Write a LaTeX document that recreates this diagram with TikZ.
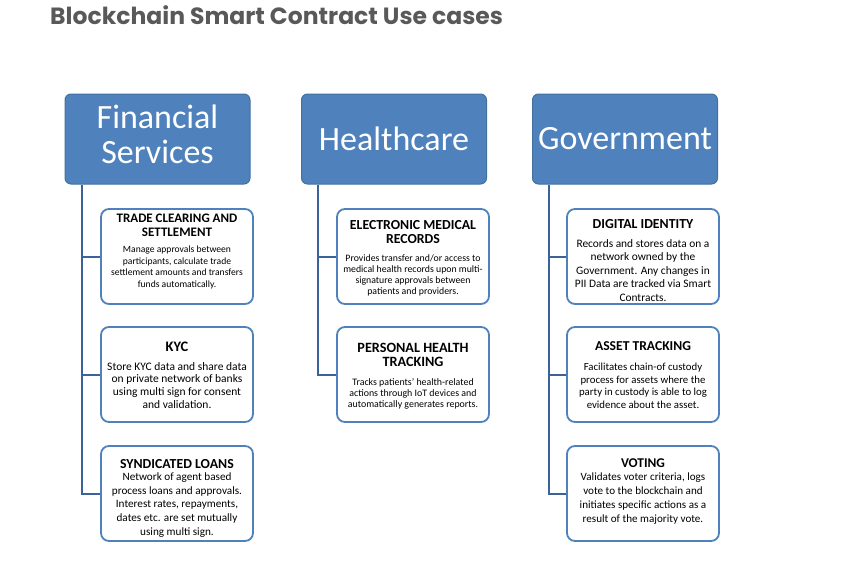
\documentclass[tikz,border=0pt]{standalone}
\usepackage{fontspec}
\usetikzlibrary{positioning}
\setmainfont{Carlito}
\newfontfamily\titlefont{Poppins}
\definecolor{hdrfill}{HTML}{4F81BD}
\definecolor{hdrdraw}{HTML}{41719C}
\definecolor{boxdraw}{HTML}{4F81BD}
\definecolor{connc}{HTML}{3B6398}
\definecolor{titlegray}{HTML}{595959}
\newcommand{\ctitle}[2][13.8]{{\fontsize{#1}{#1}\selectfont\bfseries #2}}
\newcommand{\fs}[2]{\fontsize{#1}{#2}\selectfont}
\begin{document}
\begin{tikzpicture}[x=1pt,y=-1pt,
  hdr/.style={draw=hdrdraw, line width=1pt, fill=hdrfill, rounded corners=6pt,
    minimum width=185pt, minimum height=90pt, text=white, align=center,
    font=\fontsize{34}{35}\selectfont, inner sep=0pt},
  card/.style={draw=boxdraw, line width=1.8pt, fill=white, rounded corners=8pt,
    minimum width=152pt, minimum height=95pt, inner sep=0pt},
  ctext/.style={align=center, inner sep=0pt},
  conn/.style={draw=connc, line width=2pt}]
\useasboundingbox (0,0) rectangle (865,582);
\node[anchor=base west, text=titlegray, font=\titlefont\bfseries\fontsize{23.5}{26}\selectfont, inner sep=0pt] (title) at (50,24) {Blockchain Smart Contract Use cases};

\node[hdr, text depth=10pt] (fin) at (157.5,139) {Financial\\Services};
\node[hdr] (hea) at (394,139) {Healthcare};
\node[hdr] (gov) at (625,139) {Government};

% cards (boxes)
\node[card] (f1) at (177,256.5) {};
\node[card] (f2) at (177,374.5) {};
\node[card] (f3) at (177,493.5) {};
\node[card] (h1) at (413,256.5) {};
\node[card] (h2) at (413,374.5) {};
\node[card] (g1) at (643,256.5) {};
\node[card] (g2) at (643,374.5) {};
\node[card] (g3) at (643,493.5) {};

% card texts
\node[ctext, font=\fs{9.6}{11.7}, below=5.6pt of f1.north] (f1t) {\ctitle[13]{TRADE CLEARING AND}\\[2.3pt]\ctitle[13]{SETTLEMENT}\\[4.3pt]Manage approvals between\\participants, calculate trade\\settlement amounts and transfers\\funds automatically.};
\node[ctext, font=\fs{11.5}{12.7}, below=15.3pt of f2.north] (f2t) {\ctitle[14.5]{KYC}\\[6.3pt]Store KYC data and share data\\on private network of banks\\using multi sign for consent\\and validation.};
\node[ctext, font=\fs{11.2}{13.6}, below=14pt of f3.north] (f3t) {\ctitle{SYNDICATED LOANS}\\[-1.2pt]Network of agent based\\process loans and approvals.\\Interest rates, repayments,\\dates etc. are set mutually\\using multi sign.};

\node[ctext, font=\fs{9.8}{11}, below=12.2pt of h1.north] (h1t) {\ctitle{ELECTRONIC MEDICAL}\\[3.3pt]\ctitle{RECORDS}\\[7pt]Provides transfer and/or access to\\medical health records upon multi-\\signature approvals between\\patients and providers.};
\node[ctext, font=\fs{9.9}{11.2}, below=17.1pt of h2.north] (h2t) {\ctitle[14.2]{PERSONAL HEALTH}\\[2.8pt]\ctitle[14.2]{TRACKING}\\[7.3pt]Tracks patients' health-related\\actions through IoT devices and\\automatically generates reports.};

\node[ctext, font=\fs{11.4}{13.5}, below=11.4pt of g1.north] (g1t) {\ctitle{DIGITAL IDENTITY}\\[4.9pt]Records and stores data on a\\network owned by the\\Government. Any changes in\\PII Data are tracked via Smart\\Contracts.};
\node[ctext, font=\fs{10.8}{12.8}, below=15pt of g2.north] (g2t) {\ctitle[13.6]{ASSET TRACKING}\\[7.2pt]Facilitates chain-of custody\\process for assets where the\\party in custody is able to log\\evidence about the asset.};
\node[ctext, font=\fs{11.1}{13.8}, below=13.4pt of g3.north] (g3t) {\ctitle[13.4]{VOTING}\\[-0.4pt]Validates voter criteria, logs\\vote to the blockchain and\\initiates specific actions as a\\result of the majority vote.};

\coordinate (fx) at ([xshift=17pt]fin.south west);
\coordinate (hx) at ([xshift=17pt]hea.south west);
\coordinate (gx) at ([xshift=17pt]gov.south west);

\draw[conn] (fx) |- (f3.west);
\draw[conn] (fx |- f1.west) -- (f1.west);
\draw[conn] (fx |- f2.west) -- (f2.west);
\draw[conn] (hx) |- (h2.west);
\draw[conn] (hx |- h1.west) -- (h1.west);
\draw[conn] (gx) |- (g3.west);
\draw[conn] (gx |- g1.west) -- (g1.west);
\draw[conn] (gx |- g2.west) -- (g2.west);
\end{tikzpicture}
\end{document}
